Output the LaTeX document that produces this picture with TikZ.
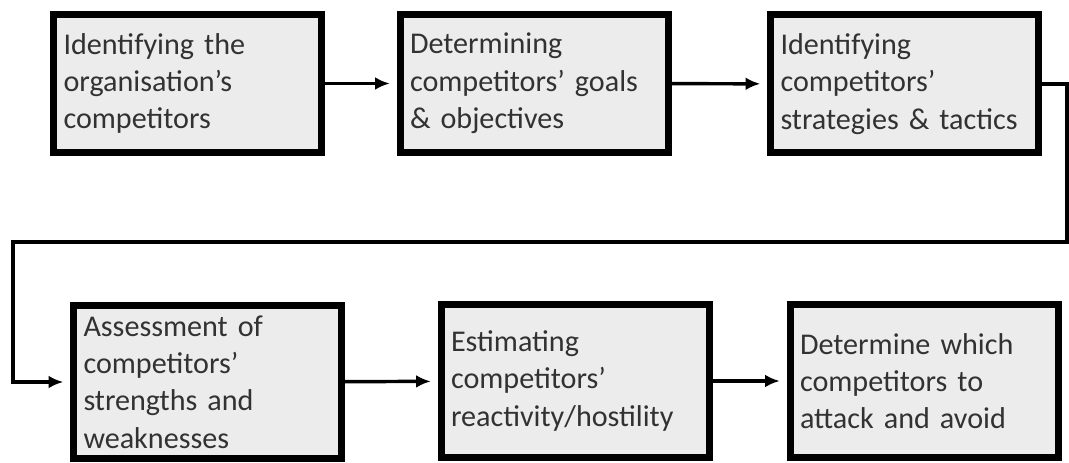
\documentclass[tikz,border=0pt]{standalone}
\usepackage{fontspec}
\setmainfont{Carlito}
\usetikzlibrary{arrows.meta}
\definecolor{boxgray}{RGB}{236,236,236}
\definecolor{txtgray}{RGB}{50,50,50}

\begin{document}
\begin{tikzpicture}[x=0.75pt, y=-0.75pt,
	etape/.style={draw=black, line width=5.25pt, fill=boxgray, text=txtgray,
		align=left, text width=186pt, inner xsep=7pt, minimum width=201pt,
		font=\fontsize{22.6}{28}\selectfont},
	fleche/.style={line width=2.6pt, -{Latex[length=11pt,width=9.5pt]}, shorten >=5pt}]

		\useasboundingbox (0,0) rectangle (1069,463);

		\newcommand{\mketape}[5]{
			\node[etape, minimum height=#4] (#1) at (#2,#3) {#5};
		}

		%ligne du haut
		\mketape{ident}{187.5}{83.5}{103.5pt}{Identifying the\\organisation’s\\competitors}
		\mketape{goals}{534}{83.5}{103.5pt}{Determining\\competitors’ goals\\\& objectives}
		\mketape{strat}{904.5}{84}{103.5pt}{Identifying\\competitors’\\strategies \& tactics}

		%ligne du bas
		\mketape{assess}{207.5}{382}{115pt}{Assessment of\\competitors’\\strengths and\\weaknesses}
		\mketape{react}{575}{381}{115pt}{Estimating\\competitors’\\reactivity/hostility}
		\mketape{attack}{924}{381}{115pt}{Determine which\\competitors to\\attack and avoid}

		%fleches
		\coordinate (tourD) at (1067,242);
		\coordinate (tourG) at (13,242);
		\draw[fleche] (ident) -- (goals);
		\draw[fleche] (goals) -- (strat);
		\draw[fleche] (strat.east) -| (tourD) -- (tourG) |- (assess.west);
		\draw[fleche] (assess) -- (react);
		\draw[fleche] (react) -- (attack);

\end{tikzpicture}
\end{document}
